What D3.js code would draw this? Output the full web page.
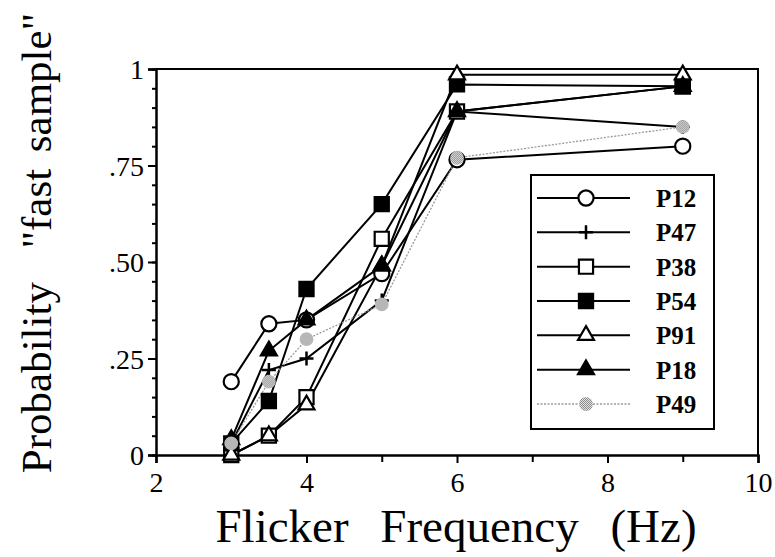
<!DOCTYPE html>
<html>
<head>
<meta charset="UTF-8">
<title>Flicker frequency</title>
<script src="https://d3js.org/d3.v7.min.js"></script>
<style>
    body { margin: 0; background: #fff; }
    svg { display: block; }
    text { font-family: "Liberation Serif", "Times New Roman", serif; fill: #000; }
</style>
</head>
<body>
<svg id="chart" width="775" height="557"></svg>
<script>

    // values
    const freqs = [3, 3.5, 4, 5, 6, 9];
    const names = ["P12", "P47", "P38", "P54", "P91", "P18", "P49"];
    const p12 = [0.19, 0.34, 0.35, 0.47, 0.765, 0.80];
    const p47 = [0.03, 0.22, 0.25, 0.40, 0.89, 0.85];
    const p38 = [0.00, 0.05, 0.15, 0.56, 0.89, 0.955];
    const p54 = [0.03, 0.14, 0.43, 0.65, 0.96, 0.955];
    const p91 = [0.00, 0.05, 0.13, 0.49, 0.985, 0.985];
    const p18 = [0.04, 0.27, 0.35, 0.49, 0.89, 0.955];
    const p49 = [0.03, 0.19, 0.30, 0.39, 0.77, 0.85];

    const xTicks = [2, 4, 6, 8, 10];
    const xMinor = [3, 5, 7, 9];
    const yTicks = [0, 0.25, 0.5, 0.75, 1];
    const yTickLabels = ["0", ".25", ".50", ".75", "1"];
    const yMinor = d3.range(0, 1.001, 0.05);

    const series = [
        {name: "P12", values: p12, shape: "circle", fill: "#fff"},
        {name: "P47", values: p47, shape: "plus", fill: "#000"},
        {name: "P38", values: p38, shape: "square", fill: "#fff"},
        {name: "P54", values: p54, shape: "square", fill: "#000"},
        {name: "P91", values: p91, shape: "triangle", fill: "#fff"},
        {name: "P18", values: p18, shape: "triangle", fill: "#000"},
        {name: "P49", values: p49, shape: "circle", fill: "url(#stipple)", grey: true}
    ];

    const svg = d3.select("#chart");

    // stippled grey like the scanned dots
    const pat = svg.append("defs").append("pattern")
        .attr("id", "stipple")
        .attr("width", 2).attr("height", 2)
        .attr("patternUnits", "userSpaceOnUse");
    pat.append("rect").attr("width", 2).attr("height", 2).attr("fill", "#e4e4e4");
    pat.append("rect").attr("width", 1).attr("height", 1).attr("fill", "#8a8a8a");
    pat.append("rect").attr("x", 1).attr("y", 1).attr("width", 1).attr("height", 1).attr("fill", "#8a8a8a");

    const x = d3.scaleLinear().domain([2, 10]).range([156, 758]);
    const y = d3.scaleLinear().domain([0, 1]).range([455, 69]);

    // frame (top and right)
    svg.append("path")
        .attr("d", `M${x(2)},${y(1)}H${x(10)}V${y(0)}`)
        .attr("fill", "none").attr("stroke", "#000").attr("stroke-width", 2);

    // axes
    const xAxis = svg.append("g").attr("transform", `translate(0,${y(0)})`)
        .call(d3.axisBottom(x).tickValues(xTicks).tickSize(8).tickPadding(9).tickFormat(d3.format("d")));
    svg.append("g").attr("transform", `translate(0,${y(0)})`)
        .call(d3.axisBottom(x).tickValues(xMinor).tickSize(7).tickFormat(""))
        .select(".domain").remove();

    const yAxis = svg.append("g").attr("transform", `translate(${x(2)},0)`)
        .call(d3.axisLeft(y).tickValues(yTicks).tickSize(8).tickPadding(4)
            .tickFormat((d, i) => yTickLabels[i]));
    svg.append("g").attr("transform", `translate(${x(2)},0)`)
        .call(d3.axisLeft(y).tickValues(yMinor).tickSize(4).tickFormat(""))
        .select(".domain").remove();

    svg.selectAll(".domain").attr("stroke-width", 2.5);
    svg.selectAll(".tick line").attr("stroke-width", 2);
    xAxis.selectAll("text").style("font-size", "28px").attr("dy", "0.72em");
    yAxis.selectAll("text").style("font-size", "28px").attr("dy", "0.34em");

    // axis titles
    svg.append("text")
        .attr("x", 456).attr("y", 542)
        .attr("text-anchor", "middle")
        .style("font-size", "47px")
        .style("word-spacing", "20px")
        .text("Flicker Frequency (Hz)");

    svg.append("text")
        .attr("transform", "translate(51,243) rotate(-90)")
        .attr("text-anchor", "middle")
        .style("font-size", "43px")
        .style("word-spacing", "6px")
        .text("Probability \u00a0\"fast sample\"");

    function marker(sel, s) {
        if (s.shape === "plus") {
            sel.append("path").attr("d", "M-7,0H7M0,-7V7")
                .attr("stroke", "#000").attr("stroke-width", 2.5).attr("fill", "none");
            return;
        }
        let sym = d3.symbolCircle, size = 180;
        if (s.shape === "square") { sym = d3.symbolSquare; size = 200; }
        if (s.shape === "triangle") { sym = d3.symbolTriangle; size = 110; }
        if (s.grey) size = 150;
        sel.append("path")
            .attr("d", d3.symbol(sym, size)())
            .attr("fill", s.fill)
            .attr("stroke", s.grey ? "none" : "#000")
            .attr("stroke-width", 2.2);
    }

    const line = d3.line().x((d, i) => x(freqs[i])).y(d => y(d));

    const plot = svg.append("g");
    series.forEach(s => {
        plot.append("path")
            .datum(s.values)
            .attr("d", line)
            .attr("fill", "none")
            .attr("stroke", s.grey ? "#9a9a9a" : "#000")
            .attr("stroke-width", s.grey ? 1.3 : 2)
            .attr("stroke-dasharray", s.grey ? "2,1.5" : null);
    });
    series.forEach(s => {
        s.values.forEach((v, i) => {
            const g = plot.append("g").attr("transform", `translate(${x(freqs[i])},${y(v)})`);
            marker(g, s);
        });
    });

    // legend
    const legend = svg.append("g");
    legend.append("rect")
        .attr("x", 531).attr("y", 175).attr("width", 183).attr("height", 254)
        .attr("fill", "#fff").attr("stroke", "#000").attr("stroke-width", 2);
    const ly = d3.scalePoint().domain(names).range([198, 404]);
    series.forEach(s => {
        const row = legend.append("g").attr("transform", `translate(0,${ly(s.name)})`);
        row.append("line")
            .attr("x1", 537).attr("x2", 630)
            .attr("stroke", s.grey ? "#9a9a9a" : "#000")
            .attr("stroke-width", s.grey ? 1.3 : 2)
            .attr("stroke-dasharray", s.grey ? "2,1.5" : null);
        marker(row.append("g").attr("transform", "translate(586,0)"), s);
        row.append("text")
            .attr("x", 656).attr("y", 9)
            .style("font-size", "25px").style("font-weight", "bold")
            .text(s.name);
    });

</script>
</body>
</html>
